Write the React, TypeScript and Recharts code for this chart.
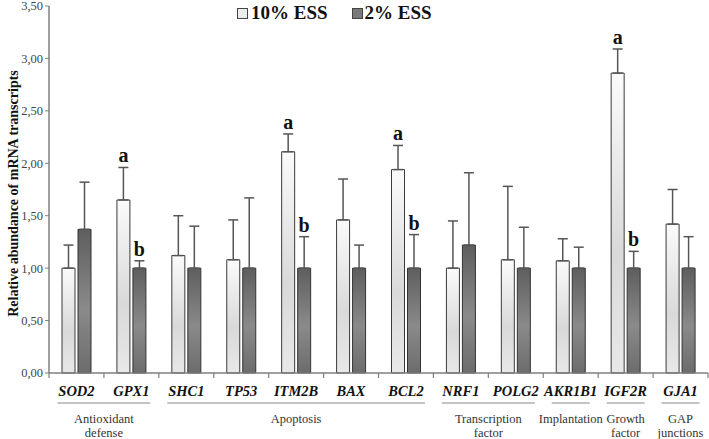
import React from 'react';
import { BarChart, Bar, XAxis, YAxis, ErrorBar, LabelList } from 'recharts';

// genes on the x axis
const genes = ['SOD2', 'GPX1', 'SHC1', 'TP53', 'ITM2B', 'BAX', 'BCL2', 'NRF1', 'POLG2', 'AKR1B1', 'IGF2R', 'GJA1'];

// mean relative abundance per group
const ess10 = [1.0, 1.65, 1.12, 1.08, 2.11, 1.46, 1.94, 1.0, 1.08, 1.07, 2.86, 1.42];
const ess2 = [1.37, 1.0, 1.0, 1.0, 1.0, 1.0, 1.0, 1.22, 1.0, 1.0, 1.0, 1.0];

// top of the error whisker (upper only)
const ess10Top = [1.22, 1.96, 1.5, 1.46, 2.28, 1.85, 2.17, 1.45, 1.78, 1.28, 3.09, 1.75];
const ess2Top = [1.82, 1.07, 1.4, 1.67, 1.3, 1.22, 1.32, 1.91, 1.39, 1.2, 1.16, 1.3];

// significance letters
const sig10 = ['', 'a', '', '', 'a', '', 'a', '', '', '', 'a', ''];
const sig2 = ['', 'b', '', '', 'b', '', 'b', '', '', '', 'b', ''];

const yTicks = [0, 0.5, 1, 1.5, 2, 2.5, 3, 3.5];

// functional groups under the gene names
const groups = [
  { label: ['Antioxidant', 'defense'], from: 0, to: 1 },
  { label: ['Apoptosis'], from: 2, to: 6 },
  { label: ['Transcription', 'factor'], from: 7, to: 8 },
  { label: ['Implantation'], from: 9, to: 9 },
  { label: ['Growth', 'factor'], from: 10, to: 10 },
  { label: ['GAP', 'junctions'], from: 11, to: 11 },
];

const data = genes.map((g, i) => ({
  gene: g,
  ess10: ess10[i],
  ess2: ess2[i],
  err10: [0, +(ess10Top[i] - ess10[i]).toFixed(2)],
  err2: [0, +(ess2Top[i] - ess2[i]).toFixed(2)],
  sig10: sig10[i],
  sig2: sig2[i],
}));

const FONT = '"Liberation Serif", "Times New Roman", serif';

const GeneTick = (props: any) => {
  const { x, y, payload, index } = props;
  const half = payload.offset || 27.45;
  const group = groups.find(g => g.from === index);
  return (
    <g>
      <line x1={x - half} x2={x - half} y1={y} y2={y + 5} stroke="#7f7f7f" strokeWidth={1.2} />
      {index === genes.length - 1 && (
        <line x1={x + half} x2={x + half} y1={y} y2={y + 5} stroke="#7f7f7f" strokeWidth={1.2} />
      )}
      <text x={x} y={y + 23} textAnchor="middle" fontFamily={FONT} fontSize={14.5} fontWeight="bold" fontStyle="italic" fill="#111">
        {payload.value}
      </text>
      {group && (
        <g>
          <line
            x1={x - 19}
            x2={x + (group.to - group.from) * half * 2 + 19}
            y1={y + 30}
            y2={y + 30}
            stroke="#8a8a8a"
            strokeWidth={1.2}
          />
          {group.label.map((t, k) => (
            <text
              key={k}
              x={x + (group.to - group.from) * half}
              y={y + 50 + k * 14}
              textAnchor="middle"
              fontFamily={FONT}
              fontSize={12.5}
              fill="#333"
            >
              {t}
            </text>
          ))}
        </g>
      )}
    </g>
  );
};

// letter placed just above the whisker
const sigLabel = (tops: number[], vals: number[]) => (props: any) => {
  const { x, y, width, height, value, index } = props;
  if (!value) return null;
  const pxPerUnit = height / vals[index];
  const top = y - (tops[index] - vals[index]) * pxPerUnit;
  return (
    <text x={x + width / 2} y={top - 5} textAnchor="middle" fontFamily={FONT} fontSize={20} fontWeight="bold" fill="#111">
      {value}
    </text>
  );
};

const LegendBox = () => (
  <div
    style={{
      position: 'absolute',
      left: 237,
      top: 1,
      display: 'flex',
      alignItems: 'center',
      fontFamily: FONT,
      fontSize: 19,
      fontWeight: 'bold',
      color: '#111',
      lineHeight: '24px',
    }}
  >
    <span style={{ width: 9, height: 9, border: '1px solid #444', background: '#ececec', marginRight: 3 }} />
    <span style={{ marginRight: 24 }}>10% ESS</span>
    <span style={{ width: 9, height: 9, border: '1px solid #444', background: '#7a7a7a', marginRight: 2 }} />
    <span>2% ESS</span>
  </div>
);

export default function App() {
  return (
    <div style={{ position: 'absolute', left: 0, top: 0, width: 709, height: 439, background: '#fff' }}>
      <BarChart width={709} height={439} data={data} margin={{ top: 6, right: 1, bottom: 0, left: 0 }} barSize={13} barGap={3}>
        <defs>
          <linearGradient id="lightFill" x1="0" y1="0" x2="0" y2="1">
            <stop offset="0%" stopColor="#fbfbfb" />
            <stop offset="60%" stopColor="#d9d9d9" />
            <stop offset="100%" stopColor="#e8e8e8" />
          </linearGradient>
          <linearGradient id="darkFill" x1="0" y1="0" x2="0" y2="1">
            <stop offset="0%" stopColor="#5e5e5e" />
            <stop offset="55%" stopColor="#8a8a8a" />
            <stop offset="100%" stopColor="#6c6c6c" />
          </linearGradient>
        </defs>
        <XAxis
          dataKey="gene"
          height={66}
          interval={0}
          tickLine={false}
          tickSize={0}
          tickMargin={0}
          axisLine={{ stroke: '#7f7f7f', strokeWidth: 1.5 }}
          tick={<GeneTick />}
        />
        <YAxis
          width={49}
          domain={[0, 3.5]}
          ticks={yTicks}
          interval={0}
          tickSize={4}
          tickFormatter={(v: number) => v.toFixed(2).replace('.', ',')}
          axisLine={{ stroke: '#7f7f7f', strokeWidth: 1.5 }}
          tickLine={{ stroke: '#7f7f7f' }}
          tick={{ fontFamily: FONT, fontSize: 12.5, fill: '#444' }}
          label={{
            content: ({ viewBox }: any) => (
              <text
                x={13}
                y={viewBox.y + viewBox.height / 2 + 4}
                transform={`rotate(-90, 13, ${viewBox.y + viewBox.height / 2 + 4})`}
                textAnchor="middle"
                dominantBaseline="central"
                fontFamily={FONT}
                fontSize={14}
                fontWeight="bold"
                fill="#111"
              >
                Relative abundance of mRNA transcripts
              </text>
            ),
          }}
        />
        <Bar dataKey="ess10" name="10% ESS" fill="url(#lightFill)" stroke="#3a3a3a" strokeWidth={1} isAnimationActive={false}>
          <ErrorBar dataKey="err10" width={5} stroke="#555" strokeWidth={1.5} direction="y" />
          <LabelList dataKey="sig10" content={sigLabel(ess10Top, ess10)} />
        </Bar>
        <Bar dataKey="ess2" name="2% ESS" fill="url(#darkFill)" stroke="#333" strokeWidth={1} isAnimationActive={false}>
          <ErrorBar dataKey="err2" width={5} stroke="#555" strokeWidth={1.5} direction="y" />
          <LabelList dataKey="sig2" content={sigLabel(ess2Top, ess2)} />
        </Bar>
      </BarChart>
      <LegendBox />
    </div>
  );
}
